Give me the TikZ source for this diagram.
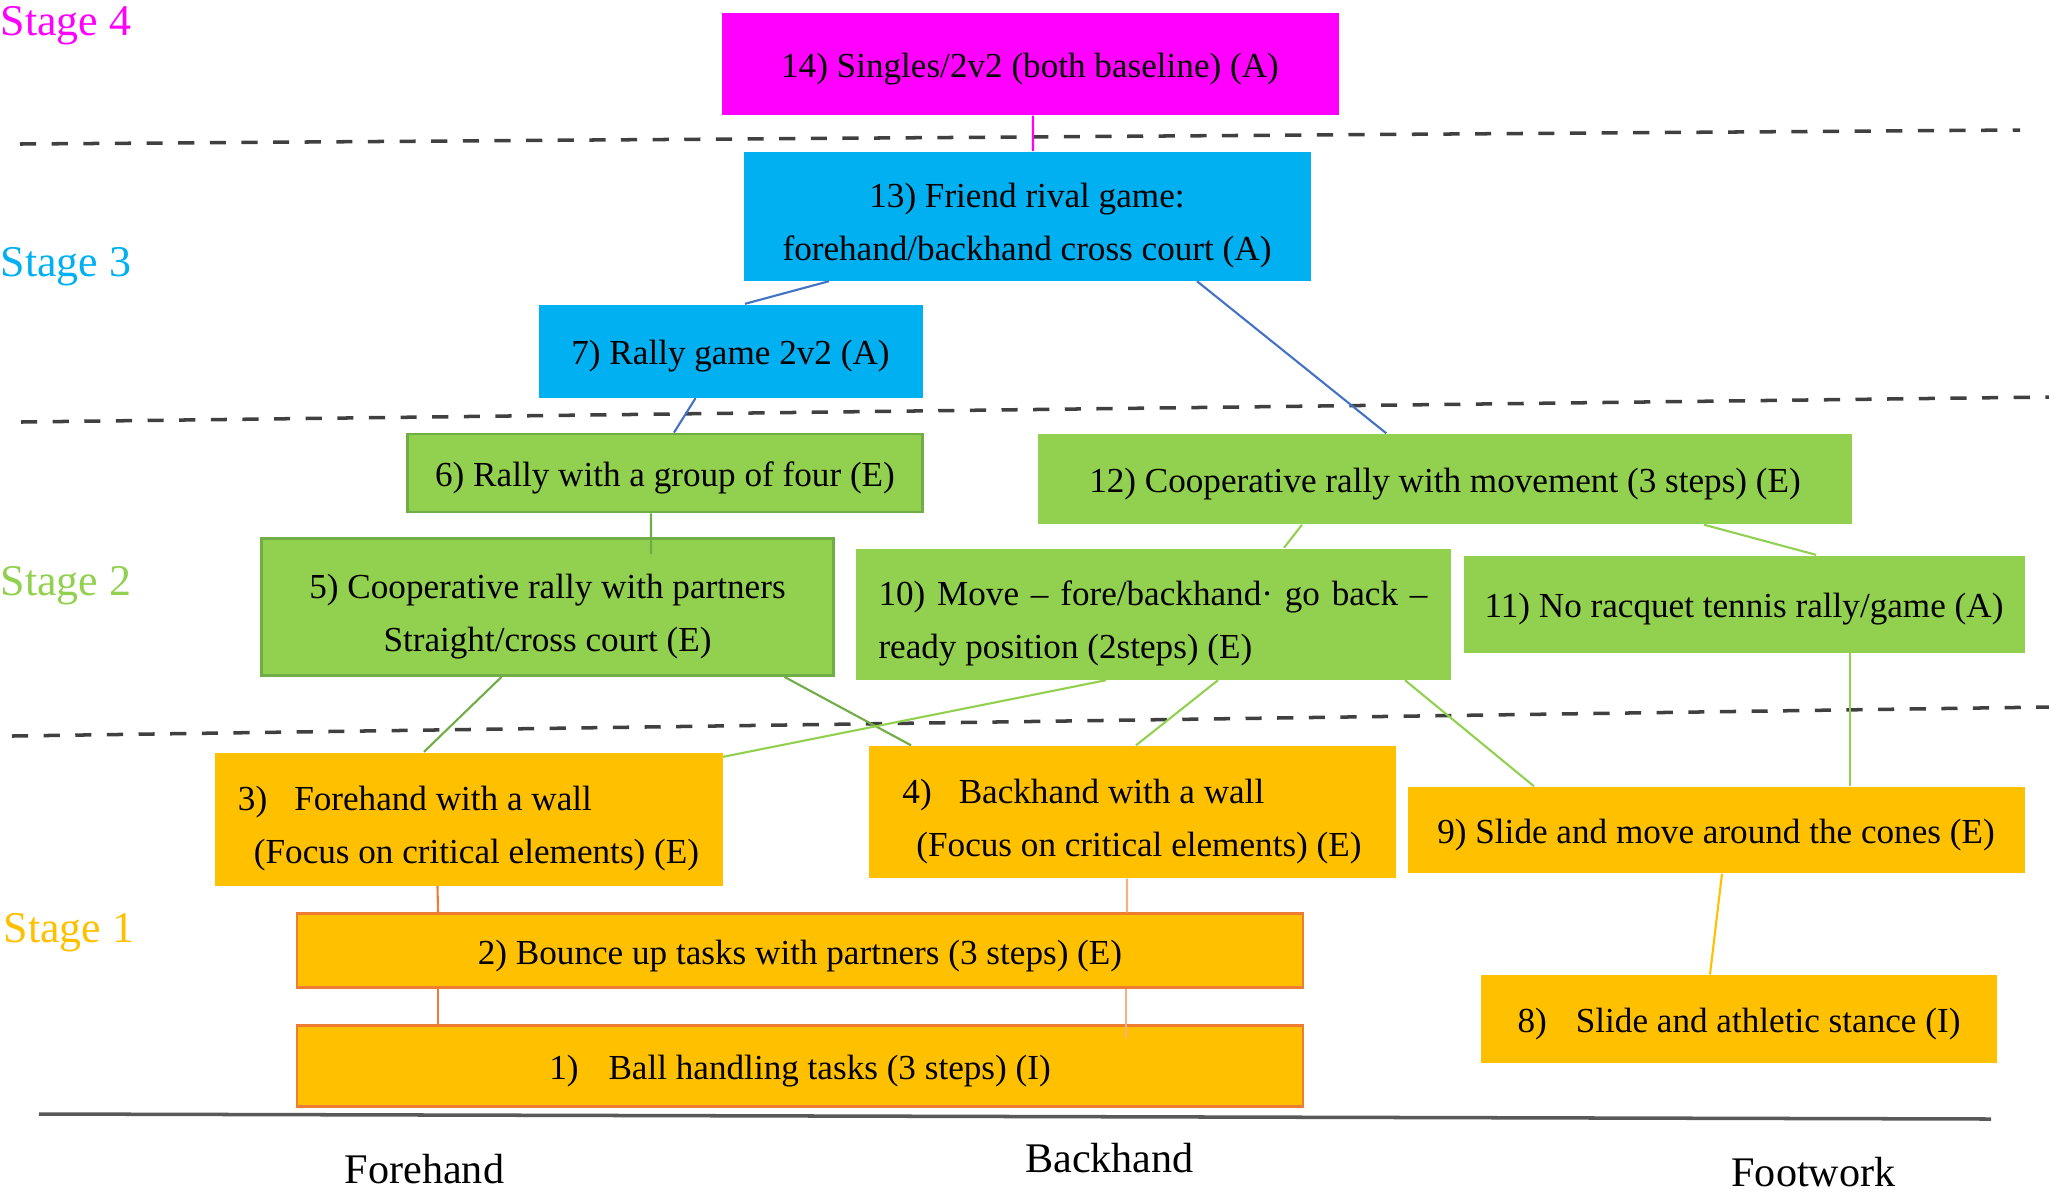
\documentclass[tikz,border=0pt]{standalone}
\usepackage{fontspec}
\setmainfont{Liberation Serif}
\definecolor{stmag}{HTML}{FF00FF}
\definecolor{stcyan}{HTML}{00B0F0}
\definecolor{stgreen}{HTML}{92D050}
\definecolor{stdkgreen}{HTML}{70AD47}
\definecolor{stamber}{HTML}{FFC000}
\definecolor{storange}{HTML}{ED7D31}
\definecolor{stsalmon}{HTML}{F4B183}
\definecolor{stblue}{HTML}{4472C4}
\newcommand{\toppad}{\rule{0pt}{12.5pt}}
\begin{document}
\begin{tikzpicture}[
    task/.style={inner sep=0pt, align=center, font=\fontsize{10}{15}\selectfont,
        execute at begin node={\rule{0pt}{9.8pt}}},
    stagelabel/.style={anchor=base west, inner sep=0pt, font=\fontsize{12.5}{15}\selectfont},
    skilllabel/.style={anchor=base, inner sep=0pt, font=\fontsize{12}{14}\selectfont},
    level/.style={black!75, line width=1pt, dash pattern=on 4.6pt off 4.4pt},
    link/.style={line width=0.6pt}
]
    \useasboundingbox (0,0) rectangle (20.49,-11.97);

    % stage separators
    \draw[level] (0.20,-1.44) -- (20.20,-1.30);
    \draw[level] (0.21,-4.22) -- (20.49,-3.97);
    \draw[level] (0.12,-7.36) -- (20.49,-7.07);
    \draw[black!65, line width=1pt] (0.39,-11.14) -- (19.91,-11.19);

    % stage labels
    \node[stagelabel, stmag] (s4) at (0,-0.35) {Stage 4};
    \node[stagelabel, stcyan] (s3) at (0,-2.76) {Stage 3};
    \node[stagelabel, stgreen] (s2) at (0,-5.95) {Stage 2};
    \node[stagelabel, stamber] (s1) at (0.03,-9.42) {Stage 1};

    % stage 4
    \node[task, fill=stmag, minimum width=6.17cm, minimum height=1.02cm] (b14) at (10.30,-0.64)
        {14) Singles/2v2 (both baseline) (A)};

    % stage 3
    \node[task, fill=stcyan, minimum width=5.67cm, minimum height=1.29cm] (b13) at (10.27,-2.16)
        {\toppad 13) Friend rival game:\\forehand/backhand cross court (A)};
    \node[task, fill=stcyan, minimum width=3.84cm, minimum height=0.93cm] (b7) at (7.305,-3.51)
        {7) Rally game 2v2 (A)};

    % stage 2
    \node[task, fill=stgreen, draw=stdkgreen, line width=0.8pt, minimum width=5.15cm, minimum height=0.78cm] (b6) at (6.65,-4.73)
        {6) Rally with a group of four (E)};
    \node[task, fill=stgreen, minimum width=8.14cm, minimum height=0.90cm] (b12) at (14.45,-4.79)
        {12) Cooperative rally with movement (3 steps) (E)};
    \node[task, fill=stgreen, draw=stdkgreen, line width=0.8pt, minimum width=5.72cm, minimum height=1.37cm] (b5) at (5.475,-6.07)
        {\toppad 5) Cooperative rally with partners\\Straight/cross court (E)};
    \node[task, fill=stgreen, align=left, minimum width=5.95cm, minimum height=1.31cm] (b10) at (11.53,-6.14)
        {\toppad\makebox[5.49cm][s]{10) Move – fore/backhand· go back –}\\ready position (2steps) (E)};
    \node[task, fill=stgreen, minimum width=5.61cm, minimum height=0.97cm] (b11) at (17.44,-6.04)
        {11) No racquet tennis rally/game (A)};

    % stage 1
    \node[task, fill=stamber, align=left, minimum width=5.08cm, minimum height=1.33cm] (b3) at (4.685,-8.19)
        {\toppad 3)\hspace{0.27cm}Forehand with a wall\\\hspace*{0.16cm}(Focus on critical elements) (E)};
    \node[task, fill=stamber, align=left, minimum width=5.27cm, minimum height=1.32cm] (b4) at (11.32,-8.12)
        {\toppad 4)\hspace{0.27cm}Backhand with a wall\\\hspace*{0.14cm}(Focus on critical elements) (E)};
    \node[task, fill=stamber, minimum width=6.17cm, minimum height=0.86cm] (b9) at (17.16,-8.30)
        {9) Slide and move around the cones (E)};
    \node[task, fill=stamber, draw=storange, line width=0.8pt, minimum width=10.06cm, minimum height=0.74cm] (b2) at (8.0,-9.507)
        {2) Bounce up tasks with partners (3 steps) (E)};
    \node[task, fill=stamber, draw=storange, line width=0.8pt, minimum width=10.06cm, minimum height=0.81cm] (b1) at (8.0,-10.66)
        {1)\hspace{0.30cm}Ball handling tasks (3 steps) (I)};
    \node[task, fill=stamber, minimum width=5.16cm, minimum height=0.875cm] (b8) at (17.39,-10.19)
        {8)\hspace{0.29cm}Slide and athletic stance (I)};

    % links
    \draw[link, stmag] ([xshift=0.3mm]b14.south) -- ([xshift=0.6mm]b13.north);
    \draw[link, stblue] ([xshift=-1.98cm]b13.south) -- ([xshift=0.145cm]b7.north);
    \draw[link, stblue] ([xshift=1.70cm]b13.south) -- ([xshift=-0.587cm]b12.north);
    \draw[link, stblue] ([xshift=-0.35cm]b7.south) -- ([xshift=0.09cm]b6.north);
    \draw[link, stdkgreen] ([xshift=-0.14cm]b6.south) -- ([xshift=1.035cm, yshift=-0.17cm]b5.north);
    \draw[link, stgreen] ([xshift=-1.43cm]b12.south) -- ([xshift=1.31cm]b10.north);
    \draw[link, stgreen] ([xshift=2.59cm]b12.south) -- ([xshift=0.72cm]b11.north);
    \draw[link, stdkgreen] ([xshift=-0.46cm]b5.south) -- ([xshift=-0.445cm]b3.north);
    \draw[link, stdkgreen] ([xshift=2.37cm]b5.south) -- ([xshift=-2.21cm]b4.north);
    \draw[link, stgreen] ([xshift=-0.47cm]b10.south) -- ([yshift=-0.05cm]b3.north east);
    \draw[link, stgreen] ([xshift=0.65cm]b10.south) -- ([xshift=0.04cm]b4.north);
    \draw[link, stgreen] ([xshift=2.52cm]b10.south) -- ([xshift=-1.82cm]b9.north);
    \draw[link, stgreen] ([xshift=1.06cm]b11.south) -- ([xshift=1.34cm]b9.north);
    \draw[link, storange] ([xshift=-0.31cm]b3.south) -- ([xshift=-3.62cm]b2.north);
    \draw[link, storange] ([xshift=-3.62cm]b2.south) -- ([xshift=-3.62cm]b1.north);
    \draw[link, stsalmon] ([xshift=-0.05cm]b4.south) -- ([xshift=3.27cm]b2.north);
    \draw[link, stsalmon] ([xshift=3.26cm]b2.south) -- ([xshift=3.26cm, yshift=-0.14cm]b1.north);
    \draw[link, stamber] ([xshift=0.06cm]b9.south) -- ([xshift=-0.29cm]b8.north);

    % skill axes
    \node[skilllabel] (fh) at (4.245,-11.83) {Forehand};
    \node[skilllabel] (bh) at (11.095,-11.72) {Backhand};
    \node[skilllabel] (fw) at (18.135,-11.86) {Footwork};
\end{tikzpicture}
\end{document}
